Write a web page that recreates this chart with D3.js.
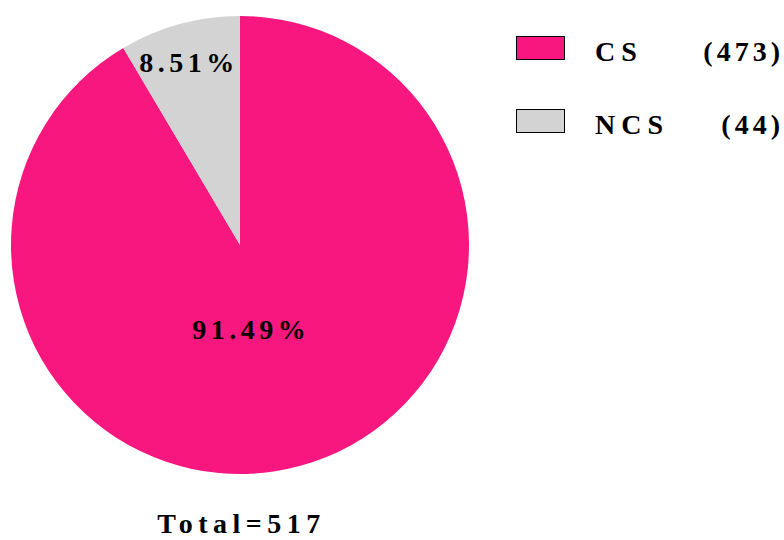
<!DOCTYPE html>
<html>
<head>
<meta charset="utf-8">
<script src="https://cdn.jsdelivr.net/npm/d3@7"></script>
<style>
  body { margin: 0; background: #fff; }
  svg { display: block; }
</style>
</head>
<body>
<div id="chart"></div>
<script>
var categories = ['CS', 'NCS'];
var counts = [473, 44];
var colors = ['#f7177f', '#d3d3d3'];

var width = 784, height = 540;
var cx = 240, cy = 245, radius = 229;
var mainFont = '"Liberation Serif", "Times New Roman", serif';
var fontSize = 28;

var total = d3.sum(counts);
var svg = d3.select('#chart').append('svg')
    .attr('width', width)
    .attr('height', height);

var pie = d3.pie().sort(null).value(function(d) { return d; });
var arcs = pie(counts);
var arc = d3.arc().innerRadius(0).outerRadius(radius);

var g = svg.append('g').attr('transform', 'translate(' + cx + ',' + cy + ')');

g.selectAll('path.slice')
    .data(arcs)
    .enter().append('path')
    .attr('class', 'slice')
    .attr('d', arc)
    .attr('fill', function(d, i) { return colors[i]; });

// percent labels: big slice near the centre, small one near the rim
var labelFactor = [0.38, 0.83];
var labelNudge = [-14, -3];
var pctSpacing = 4.5;
g.selectAll('text.pct')
    .data(arcs)
    .enter().append('text')
    .attr('class', 'pct')
    .attr('transform', function(d, i) {
        var r = radius * labelFactor[i];
        var a = (d.startAngle + d.endAngle) / 2;
        var x = Math.sin(a) * r + labelNudge[i] + pctSpacing / 2;
        var y = -Math.cos(a) * r + 10;
        return 'translate(' + x + ',' + y + ')';
    })
    .attr('text-anchor', 'middle')
    .style('font-family', mainFont)
    .style('font-weight', 'bold')
    .style('font-size', fontSize + 'px')
    .style('letter-spacing', pctSpacing + 'px')
    .text(function(d) { return (d.value / total * 100).toFixed(2) + '%'; });

// legend
var legendY = d3.scalePoint().domain(categories).range([36, 109]);

var item = svg.append('g').selectAll('g.item')
    .data(categories)
    .enter().append('g')
    .attr('class', 'item')
    .attr('transform', function(d) { return 'translate(0,' + legendY(d) + ')'; });

item.append('rect')
    .attr('x', 516.5)
    .attr('y', 0.5)
    .attr('width', 48)
    .attr('height', 23)
    .attr('fill', function(d, i) { return colors[i]; })
    .attr('stroke', '#000')
    .attr('stroke-width', 1);

item.append('text')
    .attr('x', 595)
    .attr('y', 25)
    .style('font-family', mainFont)
    .style('font-weight', 'bold')
    .style('font-size', fontSize + 'px')
    .style('letter-spacing', '6px')
    .text(function(d) { return d; });

item.append('text')
    .attr('x', 784)
    .attr('y', 25)
    .attr('text-anchor', 'end')
    .style('font-family', mainFont)
    .style('font-weight', 'bold')
    .style('font-size', fontSize + 'px')
    .style('letter-spacing', '4px')
    .text(function(d, i) { return '(' + counts[i] + ')'; });

svg.append('text')
    .attr('x', cx + 1.5)
    .attr('y', 533)
    .attr('text-anchor', 'middle')
    .style('font-family', mainFont)
    .style('font-weight', 'bold')
    .style('font-size', fontSize + 'px')
    .style('letter-spacing', '5.5px')
    .text('Total=' + total);
</script>
</body>
</html>
